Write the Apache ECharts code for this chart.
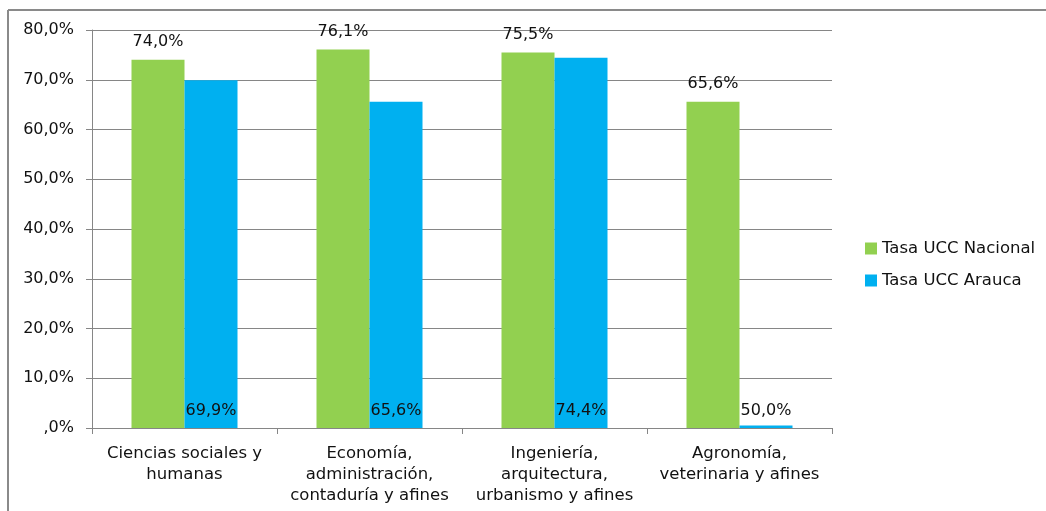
<!DOCTYPE html>
<html>
<head>
<meta charset="utf-8">
<script src="https://cdn.jsdelivr.net/npm/echarts@6/dist/echarts.min.js"></script>
<style>
html,body{margin:0;padding:0;background:#fff;}
#chart{width:1046px;height:511px;}
</style>
</head>
<body>
<div id="chart"></div>
<script>
const categories = [
  "Ciencias sociales y\nhumanas",
  "Economía,\nadministración,\ncontaduría y afines",
  "Ingeniería,\narquitectura,\nurbanismo y afines",
  "Agronomía,\nveterinaria y afines"
];
const seriesNames = ["Tasa UCC Nacional", "Tasa UCC Arauca"];
const nacional = [74.0, 76.1, 75.5, 65.6];
const arauca = [69.9, 65.6, 74.4, 0.5];
const araucaLabels = ["69,9%", "65,6%", "74,4%", "50,0%"];
const yTicks = [0, 10, 20, 30, 40, 50, 60, 70, 80];
const yTickLabels = [",0%", "10,0%", "20,0%", "30,0%", "40,0%", "50,0%", "60,0%", "70,0%", "80,0%"];

const FONT = "DejaVu Sans";
const TXT = '#111';
const fmt = v => v.toFixed(1).replace('.', ',') + '%';

const chart = echarts.init(document.getElementById('chart'));
chart.setOption({
  animation: false,
  textStyle: { fontFamily: FONT },
  grid: { left: 92, right: 214, top: 30, bottom: 83, containLabel: false },
  legend: {
    orient: 'vertical',
    left: 865,
    top: 240,
    padding: 0,
    itemWidth: 12,
    itemHeight: 12,
    itemGap: 15,
    icon: 'rect',
    textStyle: { fontFamily: FONT, fontSize: 16.5, color: TXT },
    data: seriesNames
  },
  xAxis: {
    type: 'category',
    data: categories,
    boundaryGap: true,
    axisLine: { lineStyle: { color: '#868686', width: 1 } },
    axisTick: { show: true, alignWithLabel: false, length: 6, lineStyle: { color: '#868686' } },
    axisLabel: { fontFamily: FONT, fontSize: 16.5, color: TXT, lineHeight: 21, margin: 15, interval: 0 }
  },
  yAxis: {
    type: 'value',
    min: 0, max: 80, interval: 10,
    axisLine: { show: true, lineStyle: { color: '#868686', width: 1 } },
    axisTick: { show: true, length: 6, lineStyle: { color: '#868686' } },
    splitLine: { show: true, lineStyle: { color: '#868686', width: 1 } },
    axisLabel: {
      fontFamily: FONT, fontSize: 16, color: TXT, margin: 18,
      formatter: v => yTickLabels[yTicks.indexOf(v)]
    }
  },
  series: [
    {
      name: seriesNames[0], type: 'bar', data: nacional,
      barWidth: 53, barGap: '0%',
      itemStyle: { color: '#92D050' },
      label: { show: true, position: 'top', distance: 10, fontFamily: FONT, fontSize: 16, color: TXT, formatter: p => fmt(p.value) }
    },
    {
      name: seriesNames[1], type: 'bar', data: arauca,
      barWidth: 53,
      itemStyle: { color: '#00B0F0' },
      label: { show: true, position: 'insideBottom', distance: 9, fontFamily: FONT, fontSize: 16, color: TXT, formatter: p => araucaLabels[p.dataIndex] }
    }
  ],
  graphic: [
    { type: 'line', shape: { x1: 8, y1: 10, x2: 1046, y2: 10 }, style: { stroke: '#8a8a8a', lineWidth: 2 } },
    { type: 'line', shape: { x1: 8, y1: 10, x2: 8, y2: 511 }, style: { stroke: '#8a8a8a', lineWidth: 2 } }
  ]
});
</script>
</body>
</html>
